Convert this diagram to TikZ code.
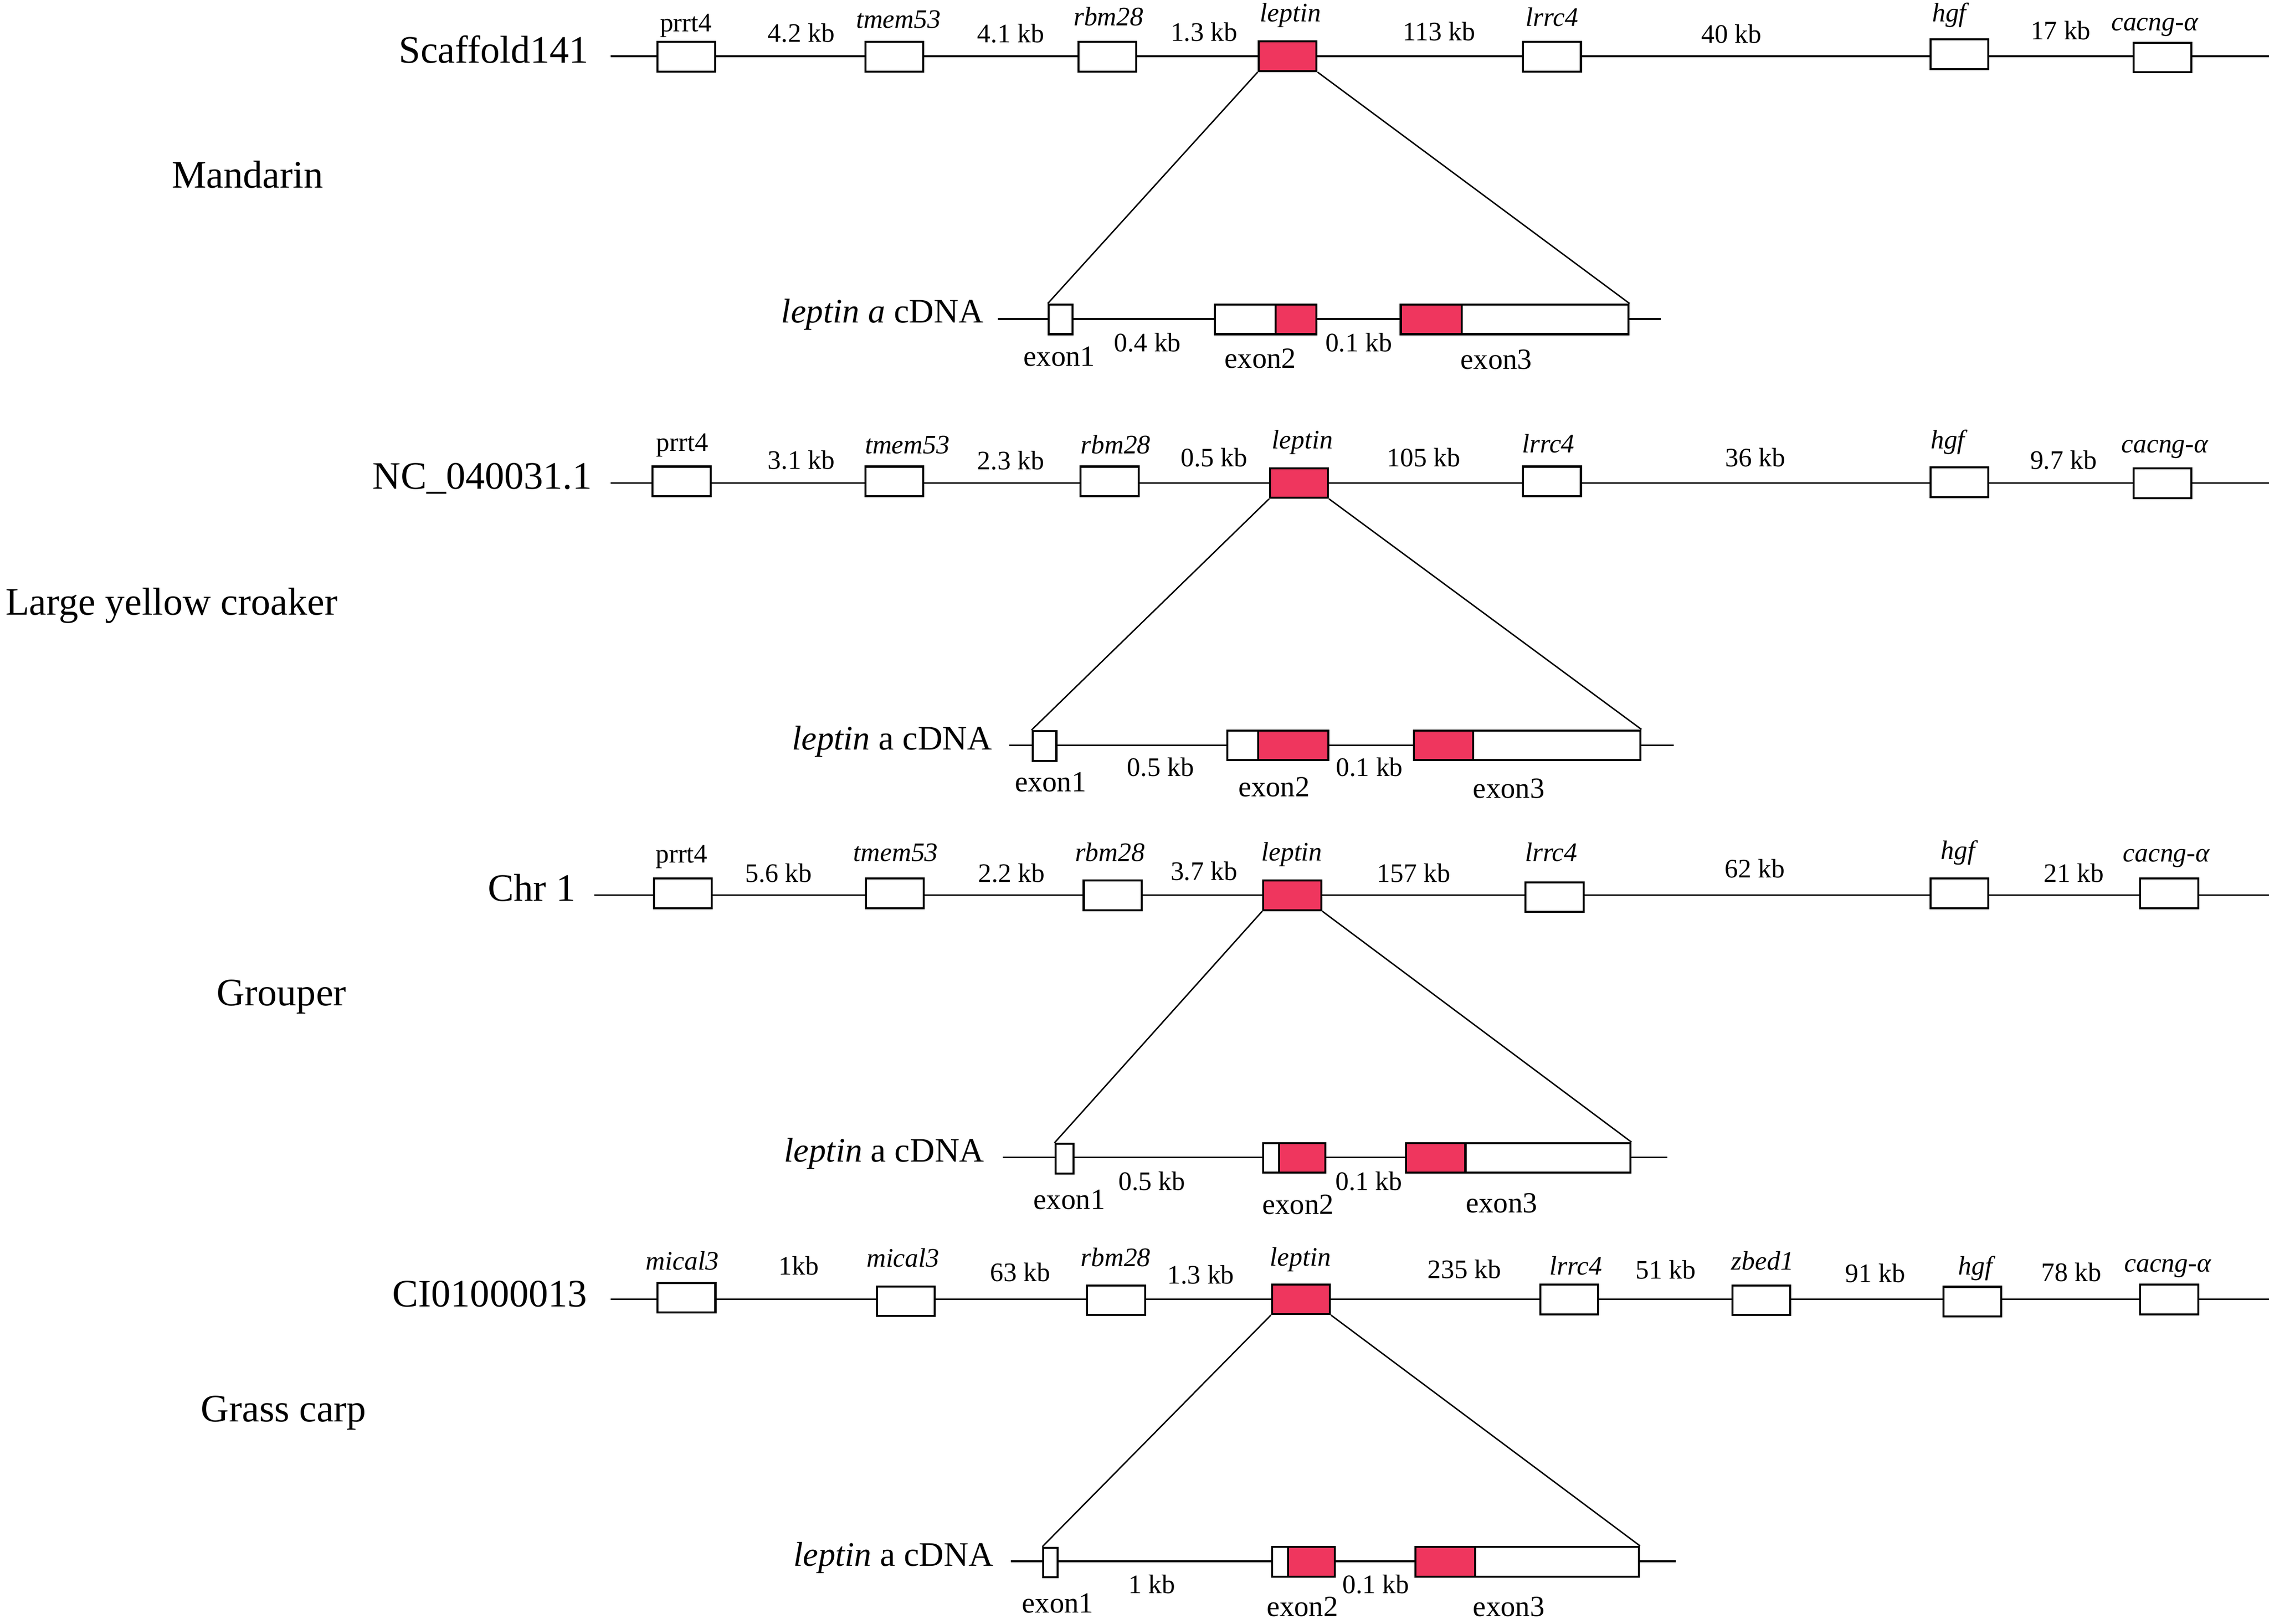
\documentclass[tikz,border=0pt]{standalone}
\usepackage{fontspec}
\setmainfont{Liberation Serif}
\usetikzlibrary{positioning}
\definecolor{leptred}{RGB}{239,54,94}

\begin{document}
\begin{tikzpicture}[x=0.2mm,y=-0.2mm,
	gene/.style={draw,fill=white,line width=0.8pt,minimum width=8mm,minimum height=4.1mm,inner sep=0pt},
	hit/.style={gene,fill=leptred},
	exbox/.style={draw,fill=white,line width=0.8pt,minimum height=4.1mm,inner sep=0pt},
	cds/.style={exbox,fill=leptred},
	chrom/.style={line width=0.7pt},
	zoomln/.style={line width=0.55pt},
	kb/.style={anchor=base,inner sep=0pt,font=\fontsize{10.5}{12}\selectfont},
	gname/.style={anchor=base,inner sep=0pt,font=\fontsize{10.5}{12}\selectfont\itshape},
	exname/.style={anchor=base,inner sep=0pt,font=\fontsize{11.5}{13}\selectfont},
	seqname/.style={anchor=base east,inner sep=0pt,font=\fontsize{15.3}{18}\selectfont},
	species/.style={anchor=base,inner sep=0pt,font=\fontsize{15.3}{18}\selectfont},
	cdna/.style={anchor=base east,inner sep=0pt,font=\fontsize{13.5}{16}\selectfont}]
	\useasboundingbox (0,0) rectangle (1568,1122);

	% ---------------- Mandarin ----------------
	\coordinate (mL) at (422,38.8);
	\coordinate (mR) at (1568,38.8);
	\draw[chrom] (mL) -- (mR);
	\node[seqname] (mseq) at (407,43.5) {Scaffold141};
	\node[species] (msp) at (171,130) {Mandarin};
	\node[gene] (mprrt4) at (474.3,39.2) {};
	\node[gene] (mtmem53) at (618,39.2) {};
	\node[gene] (mrbm28) at (765.2,39.2) {};
	\node[hit] (mleptin) at (889.8,38.9) {};
	\node[gene] (mlrrc4) at (1072.5,39.2) {};
	\node[gene] (mhgf) at (1354,37.5) {};
	\node[gene] (mcacng) at (1494.3,39.7) {};
	\node[kb] (mtprrt4) at (474,21.8) {prrt4};
	\node[kb] (md1) at (553.7,29) {4.2 kb};
	\node[gname] (mttmem53) at (620.8,19.4) {tmem53};
	\node[kb] (md2) at (698.5,29.5) {4.1 kb};
	\node[gname] (mtrbm28) at (766,17.8) {rbm28};
	\node[kb] (md3) at (832,28.4) {1.3 kb};
	\node[gname] (mtleptin) at (891.8,14.9) {leptin};
	\node[kb] (md4) at (994.5,28) {113 kb};
	\node[gname] (mtlrrc4) at (1072.5,18) {lrrc4};
	\node[kb] (md5) at (1196.6,29.8) {40 kb};
	\node[gname] (mthgf) at (1347,14.9) {hgf};
	\node[kb] (md6) at (1424,27.2) {17 kb};
	\node[gname] (mtcacng) at (1489,21) {cacng-α};
	% cDNA
	\coordinate (mcL) at (689.6,220.5);
	\coordinate (mcR) at (1147.8,220.5);
	\draw[chrom] (mcL) -- (mcR);
	\node[cdna] (mcdna) at (680,223) {\textit{leptin a} cDNA};
	\node[exbox,minimum width={16.3*0.2mm}] (mex1) at (732.9,220.7) {};
	\node[exbox,minimum width={70.1*0.2mm}] (mex2) at (874.65,220.7) {};
	\node[cds,minimum width={28.2*0.2mm}] (mex2c) at (895.6,220.7) {};
	\node[exbox,minimum width={157.4*0.2mm}] (mex3) at (1046.7,220.7) {};
	\node[cds,minimum width={42*0.2mm}] (mex3c) at (989,220.7) {};
	\node[exname] (mtex1) at (732,253) {exon1};
	\node[kb] (mi1) at (793,243) {0.4 kb};
	\node[exname] (mtex2) at (871,254.5) {exon2};
	\node[kb] (mi2) at (939,243) {0.1 kb};
	\node[exname] (mtex3) at (1034,255) {exon3};
	\draw[zoomln] (mleptin.south west) -- (mex1.north west);
	\draw[zoomln] (mleptin.south east) -- (mex3.north east);

	% ---------------- Large yellow croaker ----------------
	\coordinate (cL) at (422,333.8);
	\coordinate (cR) at (1568,333.8);
	\draw[chrom] (cL) -- (cR);
	\node[seqname] (cseq) at (409.5,338) {NC\_040031.1};
	\node[species] (csp) at (118.5,425) {Large yellow croaker};
	\node[gene] (cprrt4) at (471,332.7) {};
	\node[gene] (ctmem53) at (618,332.7) {};
	\node[gene] (crbm28) at (766.8,332.7) {};
	\node[hit] (cleptin) at (897.7,333.8) {};
	\node[gene] (clrrc4) at (1072.5,332.7) {};
	\node[gene] (chgf) at (1354,333.2) {};
	\node[gene] (ccacng) at (1494.3,334) {};
	\node[kb] (ctprrt4) at (471.5,311.7) {prrt4};
	\node[kb] (cd1) at (553.7,324) {3.1 kb};
	\node[gname] (cttmem53) at (627,313.5) {tmem53};
	\node[kb] (cd2) at (698.5,324.5) {2.3 kb};
	\node[gname] (ctrbm28) at (771,313.4) {rbm28};
	\node[kb] (cd3) at (839,322.4) {0.5 kb};
	\node[gname] (ctleptin) at (900,310) {leptin};
	\node[kb] (cd4) at (983.7,322.4) {105 kb};
	\node[gname] (ctlrrc4) at (1070,312.7) {lrrc4};
	\node[kb] (cd5) at (1213,322.4) {36 kb};
	\node[gname] (cthgf) at (1346,310) {hgf};
	\node[kb] (cd6) at (1426,324) {9.7 kb};
	\node[gname] (ctcacng) at (1496,312.7) {cacng-α};
	% cDNA
	\coordinate (ccL) at (697.5,515);
	\coordinate (ccR) at (1156.7,515);
	\draw[chrom] (ccL) -- (ccR);
	\node[cdna] (ccdna) at (686,518) {\textit{leptin} a cDNA};
	\node[exbox,minimum width={16.5*0.2mm}] (cex1) at (721.75,515.5) {};
	\node[exbox,minimum width={70*0.2mm}] (cex2) at (883,515) {};
	\node[cds,minimum width={48.5*0.2mm}] (cex2c) at (893.75,515) {};
	\node[exbox,minimum width={156.6*0.2mm}] (cex3) at (1055.3,515) {};
	\node[cds,minimum width={41*0.2mm}] (cex3c) at (997.5,515) {};
	\node[exname] (ctex1) at (726,547) {exon1};
	\node[kb] (ci1) at (802,536.5) {0.5 kb};
	\node[exname] (ctex2) at (880.4,550.5) {exon2};
	\node[kb] (ci2) at (946.4,536.5) {0.1 kb};
	\node[exname] (ctex3) at (1042.7,551.4) {exon3};
	\draw[zoomln] (cleptin.south west) -- (cex1.north west);
	\draw[zoomln] (cleptin.south east) -- (cex3.north east);

	% ---------------- Grouper ----------------
	\coordinate (gL) at (410.5,618.6);
	\coordinate (gR) at (1568,618.6);
	\draw[chrom] (gL) -- (gR);
	\node[seqname] (gseq) at (398,622.7) {Chr 1};
	\node[species] (gsp) at (194.5,695) {Grouper};
	\node[gene] (gprrt4) at (471.8,617.4) {};
	\node[gene] (gtmem53) at (618.4,617.4) {};
	\node[gene] (grbm28) at (768.9,618.8) {};
	\node[hit] (gleptin) at (893,618.7) {};
	\node[gene] (glrrc4) at (1074.3,619.9) {};
	\node[gene] (ghgf) at (1354,617.4) {};
	\node[gene] (gcacng) at (1499,617.4) {};
	\node[kb] (gtprrt4) at (471,596.3) {prrt4};
	\node[kb] (gd1) at (538,609.7) {5.6 kb};
	\node[gname] (gttmem53) at (619,595.3) {tmem53};
	\node[kb] (gd2) at (699,609.7) {2.2 kb};
	\node[gname] (gtrbm28) at (767,595.3) {rbm28};
	\node[kb] (gd3) at (832,608.3) {3.7 kb};
	\node[gname] (gtleptin) at (892.7,594.7) {leptin};
	\node[kb] (gd4) at (977,609.7) {157 kb};
	\node[gname] (gtlrrc4) at (1072,595.3) {lrrc4};
	\node[kb] (gd5) at (1212.6,606.5) {62 kb};
	\node[gname] (gthgf) at (1353,593.9) {hgf};
	\node[kb] (gd6) at (1433,609.7) {21 kb};
	\node[gname] (gtcacng) at (1497,595.6) {cacng-α};
	% cDNA
	\coordinate (gcL) at (692.9,799.8);
	\coordinate (gcR) at (1152,799.8);
	\draw[chrom] (gcL) -- (gcR);
	\node[cdna] (gcdna) at (680.6,803) {\textit{leptin} a cDNA};
	\node[exbox,minimum width={12.6*0.2mm}] (gex1) at (735.7,800.7) {};
	\node[exbox,minimum width={43*0.2mm}] (gex2) at (894.5,800.2) {};
	\node[cds,minimum width={32*0.2mm}] (gex2c) at (900,800.2) {};
	\node[exbox,minimum width={155.1*0.2mm}] (gex3) at (1049.15,800.2) {};
	\node[cds,minimum width={41.1*0.2mm}] (gex3c) at (992.15,800.2) {};
	\node[exname] (gtex1) at (739,835.5) {exon1};
	\node[kb] (gi1) at (796,822.4) {0.5 kb};
	\node[exname] (gtex2) at (897,839) {exon2};
	\node[kb] (gi2) at (946,822.4) {0.1 kb};
	\node[exname] (gtex3) at (1037.7,838) {exon3};
	\draw[zoomln] (gleptin.south west) -- (gex1.north west);
	\draw[zoomln] (gleptin.south east) -- (gex3.north east);

	% ---------------- Grass carp ----------------
	\coordinate (kL) at (422,897.9);
	\coordinate (kR) at (1568,897.9);
	\draw[chrom] (kL) -- (kR);
	\node[seqname] (kseq) at (406,903) {CI01000013};
	\node[species] (ksp) at (196,982.5) {Grass carp};
	\node[gene] (kmical3a) at (474.4,896.8) {};
	\node[gene] (kmical3b) at (626,899.2) {};
	\node[gene] (krbm28) at (771.3,898.5) {};
	\node[hit] (kleptin) at (899,897.8) {};
	\node[gene] (klrrc4) at (1084.4,898) {};
	\node[gene] (kzbed1) at (1217.2,898.5) {};
	\node[gene] (khgf) at (1363,899.5) {};
	\node[gene] (kcacng) at (1499,898) {};
	\node[gname] (ktmical3a) at (471.5,877.4) {mical3};
	\node[kb] (kd1) at (552,881) {1kb};
	\node[gname] (ktmical3b) at (624,875.6) {mical3};
	\node[kb] (kd2) at (705,885.4) {63 kb};
	\node[gname] (ktrbm28) at (771,875) {rbm28};
	\node[kb] (kd3) at (829.8,887.2) {1.3 kb};
	\node[gname] (ktleptin) at (898.7,874.7) {leptin};
	\node[kb] (kd4) at (1012,883.3) {235 kb};
	\node[gname] (ktlrrc4) at (1089,881) {lrrc4};
	\node[kb] (kd5) at (1151,883.7) {51 kb};
	\node[gname] (ktzbed1) at (1218,877.4) {zbed1};
	\node[kb] (kd6) at (1296,886) {91 kb};
	\node[gname] (kthgf) at (1365,881) {hgf};
	\node[kb] (kd7) at (1431.3,885.4) {78 kb};
	\node[gname] (ktcacng) at (1498,879) {cacng-α};
	% cDNA
	\coordinate (kcL) at (698.5,1079);
	\coordinate (kcR) at (1158,1079);
	\draw[chrom] (kcL) -- (kcR);
	\node[cdna] (kcdna) at (687,1082.3) {\textit{leptin} a cDNA};
	\node[exbox,minimum width={10*0.2mm}] (kex1) at (726,1079.8) {};
	\node[exbox,minimum width={43.5*0.2mm}] (kex2) at (900.75,1079.2) {};
	\node[cds,minimum width={32.5*0.2mm}] (kex2c) at (906.25,1079.2) {};
	\node[exbox,minimum width={154.6*0.2mm}] (kex3) at (1055.3,1079.2) {};
	\node[cds,minimum width={41.5*0.2mm}] (kex3c) at (998.75,1079.2) {};
	\node[exname] (ktex1) at (731,1114.4) {exon1};
	\node[kb] (ki1) at (796,1101) {1 kb};
	\node[exname] (ktex2) at (900,1117) {exon2};
	\node[kb] (ki2) at (950.8,1101) {0.1 kb};
	\node[exname] (ktex3) at (1042.7,1117) {exon3};
	\draw[zoomln] (kleptin.south west) -- (kex1.north west);
	\draw[zoomln] (kleptin.south east) -- (kex3.north east);
\end{tikzpicture}
\end{document}
